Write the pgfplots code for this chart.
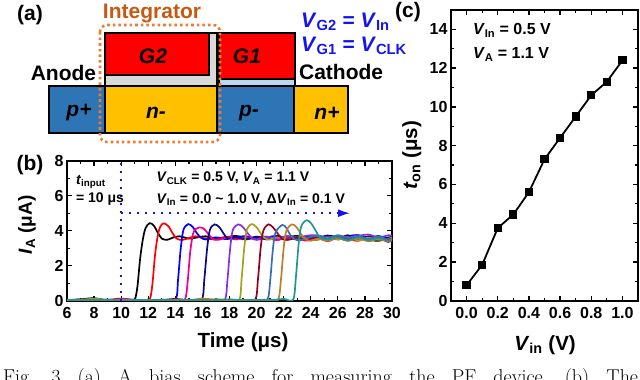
\documentclass[border=0pt]{standalone}
\usepackage{fontspec}
\setmainfont{Liberation Sans}
\newfontfamily\capfont{Latin Modern Roman}
\usepackage{pgfplots}
\pgfplotsset{compat=1.18}
\usetikzlibrary{arrows.meta}
\newcommand{\fs}[1]{\fontsize{#1}{#1}\selectfont\bfseries}
\newcommand{\sbs}[1]{\textsubscript{#1}}
\newcommand{\vv}[1]{\textit{V}\sbs{#1}}
\definecolor{pblue}{HTML}{2E75B6}
\definecolor{ngold}{HTML}{FFC000}
\definecolor{dots}{HTML}{ED7D31}
\definecolor{integ}{HTML}{C55A11}
\definecolor{vblue}{HTML}{1414F0}
\definecolor{oxide}{HTML}{BDD7EE}
\definecolor{c5}{RGB}{10,10,130}
\definecolor{c6}{RGB}{130,50,230}
\definecolor{c7}{RGB}{165,160,30}
\definecolor{c8}{RGB}{145,0,35}
\definecolor{c9}{RGB}{55,110,180}
\definecolor{c10}{RGB}{190,125,40}
\definecolor{c11}{RGB}{30,150,150}
\pgfplotsset{
  panel/.style={
    scale only axis,
    anchor=south west,
    axis line style={line width=1.8pt},
    tick align=inside,
    major tick length=5pt,
    minor tick length=3pt,
    every tick/.style={black,line width=1.3pt},
    minor tick num=1,
    tick label style={font=\fs{16}},
    xticklabel style={yshift=-3pt},
    /pgf/number format/assume math mode=true,
  },
  curve/.style={line width=1.7pt,smooth,tension=0.5,no markers},
}
\begin{document}
\begin{tikzpicture}
\path[use as bounding box] (0,0) rectangle (640pt,380pt);

% panel (a): device schematic, pixel coordinates from the top left
\begin{scope}[x=1pt,y=-1pt,yshift=380pt,line width=2.2pt,font=\fs{21}]
  \draw[fill=pblue] (49,86) rectangle (105,133);
  \draw[fill=ngold] (105,86) rectangle (217,133);
  \draw[fill=pblue] (217,86) rectangle (294,133);
  \draw[fill=ngold] (294,86) rectangle (348,133);
  \draw[fill=black!15] (105,33) rectangle (217,86);
  \draw[fill=red] (105,33) rectangle (209,75);
  \draw[fill=oxide] (219,33) rectangle (295,86);
  \draw[fill=red] (219,33) rectangle (295,79);
  \draw[dots,line width=2.6pt,dash pattern=on 2.6pt off 3pt,rounded corners=7pt] (100,25) rectangle (220,142);
  \node[integ] at (152,14) {Integrator};
  \node at (63.5,73) {Anode};
  \node[anchor=west,inner sep=0pt] at (298,72) {Cathode};
  \node at (153,56) {\textit{G2}};
  \node at (247,56) {\textit{G1}};
  \node at (79,113) {\textit{p+}};
  \node at (156,113) {\textit{n-}};
  \node at (249,113) {\textit{p-}};
  \node at (327,113) {\textit{n+}};
  \node[vblue,anchor=west,inner sep=0pt] at (300,22) {\vv{G2} = \vv{In}};
  \node[vblue,anchor=west,inner sep=0pt] at (300,46) {\vv{G1} = \vv{CLK}};
  \node at (30,15) {(a)};
  \node at (30,165) {(b)};
  \node at (408,12) {(c)};
  \node[anchor=base west,inner sep=0pt,font=\capfont\fontsize{20}{20}\selectfont\frenchspacing] at (2,383.5)
    {\makebox[635pt][s]{Fig. 3 (a) A bias scheme for measuring the PF device. (b) The}};
\end{scope}

% panel (b)
\begin{axis}[panel,at={(67pt,79.3pt)},width=325pt,height=140pt,
  xmin=6,xmax=30,ymin=0,ymax=8,
  xtick={6,8,...,30},ytick={0,2,...,8},
  xlabel={Time (μs)},
  ylabel={\textit{I}\sbs{A} (μA)},
  xlabel style={font=\fs{20.5},at={(axis description cs:0.5415,-0.293)},anchor=center},
  ylabel style={font=\fs{19},at={(axis description cs:-0.123,0.54)},anchor=center},
]
\addplot[curve,black] coordinates {(6,.03)(7,.08)(8,.14)(9,.02)(10,.05)(10.6,.03)(11,.06)(11.2,.8)(11.4,2.4)(11.6,3.5)(11.8,4.15)(12.1,4.43)(12.4,4.3)(12.7,3.9)(13,3.55)(13.4,3.48)(13.8,3.6)(14.3,3.68)(15,3.55)(15.5,3.6)(16.25,3.68)(17,3.52)(17.75,3.62)(18.5,3.7)(19.25,3.55)(20,3.6)(20.75,3.66)(21.5,3.5)(22.25,3.62)(23,3.7)(23.75,3.56)(24.5,3.5)(25.25,3.72)(26,3.6)(26.75,3.45)(27.5,3.7)(28.25,3.5)(29,3.42)(29.75,3.6)(30,3.65)};
\addplot[curve,red] coordinates {(6,.05)(7,.02)(8,.06)(9,.03)(9.8,.12)(10.6,.08)(11.5,.02)(12.1,.08)(12.3,.9)(12.5,2.6)(12.7,3.7)(12.9,4.25)(13.15,4.42)(13.5,4.25)(13.8,3.85)(14.1,3.55)(14.5,3.47)(15,3.58)(15.5,3.68)(16.25,3.56)(17,3.5)(17.75,3.66)(18.5,3.58)(19.25,3.5)(20,3.66)(20.75,3.55)(21.5,3.62)(22.25,3.48)(23,3.6)(23.75,3.68)(24.5,3.62)(25.25,3.5)(26,3.7)(26.75,3.55)(27.5,3.42)(28.25,3.65)(29,3.6)(29.75,3.45)(30,3.55)};
\addplot[curve,blue] coordinates {(6,.02)(7,.06)(8,.03)(9,.05)(10,.02)(11,.05)(12,.02)(13,.06)(14.02,.08)(14.2,1.2)(14.4,3.0)(14.6,4.05)(14.95,4.38)(15.3,4.2)(15.6,3.85)(15.9,3.6)(16.25,3.5)(17,3.62)(17.75,3.52)(18.5,3.64)(19.25,3.68)(20,3.52)(20.75,3.62)(21.5,3.7)(22.25,3.58)(23,3.52)(23.75,3.66)(24.5,3.58)(25.25,3.72)(26,3.5)(26.75,3.68)(27.5,3.75)(28.25,3.55)(29,3.7)(29.75,3.5)(30,3.6)};
\addplot[curve,magenta] coordinates {(6,.06)(7,.03)(8,.05)(9,.02)(10,.1)(11,.03)(12,.05)(13,.02)(14,.05)(14.7,.06)(14.9,1.0)(15.1,2.8)(15.3,3.8)(15.5,4.1)(15.75,4.18)(16.1,4.12)(16.5,3.75)(16.8,3.52)(17.2,3.48)(17.75,3.6)(18.5,3.5)(19.25,3.62)(20,3.48)(20.75,3.58)(21.5,3.46)(22.25,3.6)(23,3.5)(23.75,3.44)(24.5,3.6)(25.25,3.4)(26,3.62)(26.75,3.52)(27.5,3.75)(28.25,3.42)(29,3.55)(29.75,3.35)(30,3.5)};
\addplot[curve,c5] coordinates {(6,.03)(7,.05)(8,.02)(9,.06)(10,.03)(11,.02)(12,.05)(13,.03)(14,.04)(15,.03)(15.95,.06)(16.15,1.3)(16.35,3.0)(16.55,4.05)(16.9,4.36)(17.25,4.2)(17.6,3.8)(17.9,3.55)(18.5,3.62)(19.25,3.52)(20,3.66)(20.75,3.5)(21.5,3.62)(22.25,3.52)(23,3.66)(23.75,3.56)(24.5,3.5)(25.25,3.68)(26,3.55)(26.75,3.74)(27.5,3.5)(28.25,3.68)(29,3.5)(29.75,3.62)(30,3.6)};
\addplot[curve,c6] coordinates {(6,.04)(7,.02)(8,.05)(9,.03)(10,.05)(11,.02)(12,.04)(13,.03)(14,.05)(15,.03)(16,.06)(17,.04)(17.67,.07)(17.85,1.2)(18.05,3.0)(18.25,4.05)(18.65,4.36)(19,4.2)(19.35,3.85)(19.7,3.55)(20,3.5)(20.75,3.65)(21.5,3.55)(22.25,3.7)(23,3.6)(23.75,3.72)(24.5,3.74)(25.25,3.6)(26,3.72)(26.75,3.62)(27.5,3.7)(28.25,3.78)(29,3.62)(29.75,3.74)(30,3.7)};
\addplot[curve,c7] coordinates {(6,.05)(7,.03)(8,.12)(9,.02)(10,.04)(11,.03)(12,.05)(13,.02)(14,.03)(15,.05)(16,.03)(17,.08)(18,.05)(18.73,.07)(18.9,1.3)(19.1,3.1)(19.3,4.1)(19.65,4.38)(20,4.2)(20.35,3.8)(20.65,3.55)(21,3.5)(21.5,3.62)(22.25,3.5)(23,3.62)(23.75,3.55)(24.5,3.48)(25.25,3.62)(26,3.5)(26.75,3.62)(27.5,3.45)(28.25,3.6)(29,3.48)(29.75,3.55)(30,3.6)};
\addplot[curve,c8] coordinates {(6,.02)(7,.05)(8,.03)(9,.02)(10,.06)(11,.03)(12,.02)(13,.04)(14,.1)(15,.03)(16,.05)(17,.03)(18,.05)(19,.03)(19.9,.06)(20.1,1.2)(20.3,3.0)(20.5,4.0)(20.87,4.36)(21.2,4.2)(21.55,3.85)(21.85,3.55)(22.25,3.48)(23,3.6)(23.75,3.5)(24.5,3.62)(25.25,3.48)(26,3.6)(26.75,3.5)(27.5,3.6)(28.25,3.48)(29,3.58)(29.75,3.5)(30,3.55)};
\addplot[curve,c9] coordinates {(6,.04)(7,.03)(8,.05)(9,.02)(10,.03)(11,.05)(12,.03)(13,.02)(14,.05)(15,.03)(16,.02)(17,.05)(18,.03)(19,.05)(20,.02)(20.8,.08)(21,1.1)(21.2,2.9)(21.4,3.9)(21.9,4.33)(22.2,4.15)(22.5,3.75)(22.8,3.52)(23.2,3.45)(23.75,3.6)(24.5,3.7)(25.25,3.55)(26,3.74)(26.75,3.58)(27.5,3.72)(28.25,3.5)(29,3.68)(29.75,3.44)(30,3.55)};
\addplot[curve,c10] coordinates {(6,.03)(7,.06)(8,.08)(9,.03)(10,.05)(11,.03)(12,.04)(13,.02)(14,.05)(15,.03)(16,.12)(17,.05)(18,.03)(19,.05)(20,.03)(21,.05)(21.6,.07)(21.8,1.2)(22,3.0)(22.2,4.0)(22.6,4.36)(22.95,4.2)(23.3,3.8)(23.6,3.52)(24,3.42)(24.5,3.55)(25.25,3.42)(26,3.58)(26.75,3.42)(27.5,3.56)(28.25,3.4)(29,3.52)(29.75,3.4)(30,3.5)};
\addplot[curve,c11] coordinates {(6,.05)(7,.03)(8,.04)(9,.06)(10,.02)(11,.04)(12,.03)(13,.05)(14,.03)(15,.05)(16,.02)(17,.04)(18,.07)(19,.03)(20,.05)(21,.03)(22,.1)(22.7,.06)(22.9,1.3)(23.1,3.2)(23.3,4.25)(23.7,4.6)(24.05,4.4)(24.4,3.95)(24.7,3.6)(25.25,3.5)(26,3.62)(26.75,3.45)(27.5,3.62)(28.25,3.46)(29,3.58)(29.75,3.42)(30,3.55)};
\addplot[vblue,line width=2pt,dash pattern=on 2pt off 6pt] coordinates {(10,0)(10,8)};
\addplot[vblue,line width=2pt,dash pattern=on 2pt off 6pt] coordinates {(10,5)(26,5)};
\addplot[vblue,line width=1.6pt,-{Latex[length=12pt,width=8pt]}] coordinates {(26,5)(26.9,5)};
\node[anchor=west,inner sep=0pt,font=\fs{14}] at (axis cs:6.65,6.8) {\textit{t}\sbs{input}};
\node[anchor=west,inner sep=0pt,font=\fs{14}] at (axis cs:6.65,5.8) {= 10 μs};
\node[anchor=west,inner sep=0pt,font=\fs{14}] at (axis cs:12.6,7.0) {\vv{CLK} = 0.5 V, \vv{A} = 1.1 V};
\node[anchor=west,inner sep=0pt,font=\fs{14}] at (axis cs:12.6,5.8) {\vv{In} = 0.0 \textasciitilde\ 1.0 V, Δ\vv{In} = 0.1 V};
\end{axis}

% panel (c)
\begin{axis}[panel,at={(451pt,79.3pt)},width=187pt,height=290.7pt,
  xmin=-0.1,xmax=1.1,ymin=0,ymax=15,
  xtick={0,0.2,...,1.0},ytick={0,2,...,14},
  xticklabel style={/pgf/number format/.cd,fixed,zerofill,precision=1},
  xlabel={\textit{V}\sbs{in} (V)},
  ylabel={\textit{t}\sbs{on} (μs)},
  xlabel style={font=\fs{20.5},at={(axis description cs:0.503,-0.152)},anchor=center},
  ylabel style={font=\fs{20.5},at={(axis description cs:-0.209,0.5)},anchor=center},
]
\addplot[black,line width=1.8pt,mark=square*,mark size=3.2pt] coordinates {(0.0,0.8)(0.1,1.85)(0.2,3.75)(0.3,4.45)(0.4,5.6)(0.5,7.3)(0.6,8.4)(0.7,9.5)(0.8,10.6)(0.9,11.3)(1.0,12.4)};
\node[anchor=west,inner sep=0pt,font=\fs{16}] at (axis cs:0.04,13.95) {\vv{In} = 0.5 V};
\node[anchor=west,inner sep=0pt,font=\fs{16}] at (axis cs:0.04,12.7) {\vv{A} = 1.1 V};
\end{axis}
\end{tikzpicture}
\end{document}
